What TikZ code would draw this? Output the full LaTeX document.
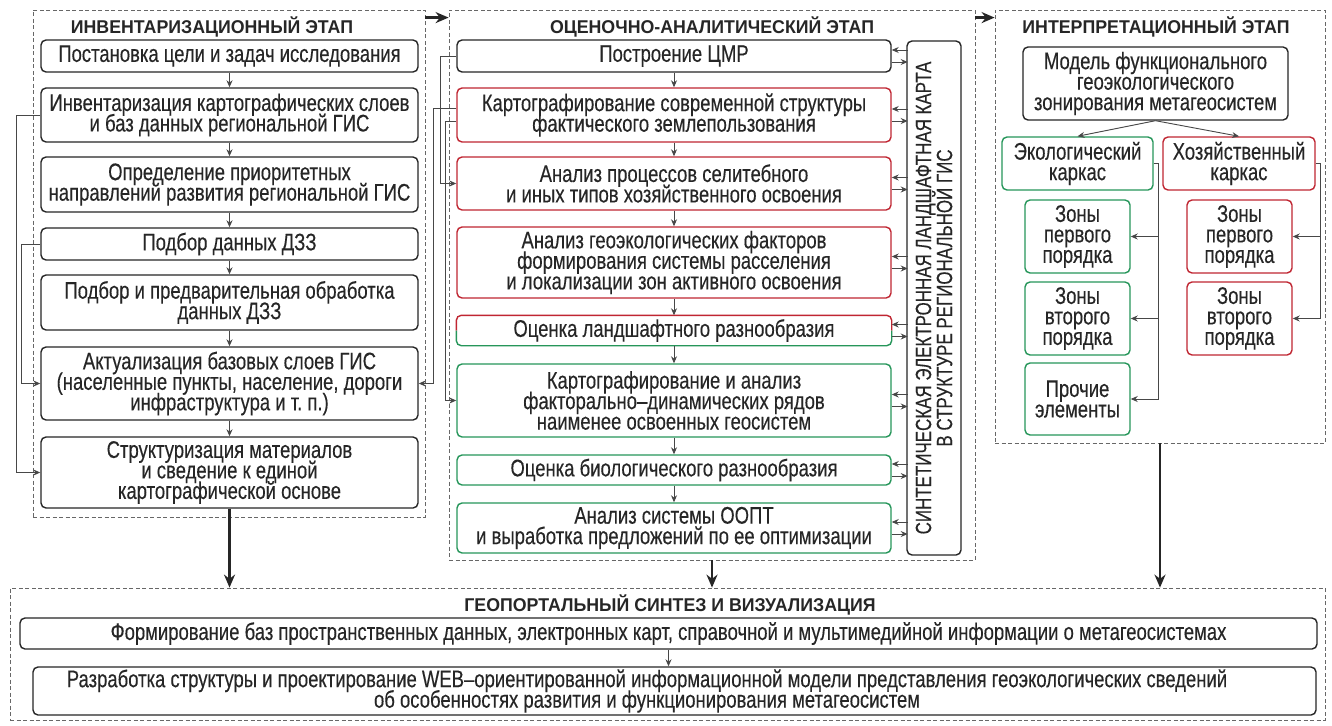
\documentclass[tikz,border=0pt]{standalone}
\usepackage{fontspec}
\setmainfont{Liberation Sans}[FakeStretch=0.77,FakeBold=0.25]
\newfontfamily\hdrfont{Liberation Sans}[FakeStretch=0.96]
\usetikzlibrary{arrows.meta,calc}
\definecolor{redb}{RGB}{192,38,50}
\definecolor{greenb}{RGB}{38,150,90}
\definecolor{ink}{RGB}{38,38,38}
\newcommand\bodyf{\fontsize{24}{20.5}\selectfont\lineskiplimit=-30pt\lineskip=0pt}
\newcommand\vertf{\fontsize{22}{21}\selectfont\lineskiplimit=-30pt\lineskip=0pt}
\tikzset{
  box/.style={draw=ink, line width=1.4pt, rounded corners=5pt, inner sep=0pt, font=\bodyf, align=center, text=ink},
  rbox/.style={box, draw=redb},
  gbox/.style={box, draw=greenb},
  frame/.style={draw=ink!70, line width=0.8pt, dash pattern=on 4pt off 2.5pt, inner sep=0pt},
  hdr/.style={font=\hdrfont\bfseries\fontsize{18.5}{18.5}\selectfont, text=ink, inner sep=0pt},
  con/.style={draw=ink!85, line width=0.9pt},
  arr/.style={con, -{Stealth[length=7pt,width=6pt]}},
  big/.style={draw=ink, line width=2.2pt, -{Stealth[length=13pt,width=11pt]}},
}
\begin{document}
\begin{tikzpicture}[x=1pt,y=-1pt]
\useasboundingbox[fill=white] (0,0) rectangle (1332,725);
% frames
\node[frame, minimum width=392, minimum height=507] (fl) at (229,263.5) {};
\node[frame, minimum width=526, minimum height=550] (fm) at (712,285) {};
\node[frame, minimum width=330, minimum height=433] (fr) at (1160,226.5) {};
\node[frame, minimum width=1315, minimum height=132] (fb) at (667.5,654) {};
% titles
\node[hdr] (tl) at (212,27) {ИНВЕНТАРИЗАЦИОННЫЙ ЭТАП};
\node[hdr] (tm) at (712,27) {ОЦЕНОЧНО-АНАЛИТИЧЕСКИЙ ЭТАП};
\node[hdr] (tr) at (1156,27) {ИНТЕРПРЕТАЦИОННЫЙ ЭТАП};
\node[hdr] (tb) at (670,605) {ГЕОПОРТАЛЬНЫЙ СИНТЕЗ И ВИЗУАЛИЗАЦИЯ};
% left column
\node[box, minimum width=377, minimum height=32] (l1) at (229.5,56) {Постановка цели и задач исследования};
\node[box, minimum width=377, minimum height=54] (l2) at (229.5,115) {Инвентаризация картографических слоев\\и баз данных региональной ГИС};
\node[box, minimum width=377, minimum height=55] (l3) at (229.5,184.5) {Определение приоритетных\\направлений развития региональной ГИС};
\node[box, minimum width=377, minimum height=32] (l4) at (229.5,244) {Подбор данных ДЗЗ};
\node[box, minimum width=377, minimum height=55] (l5) at (229.5,302.5) {Подбор и предварительная обработка\\данных ДЗЗ};
\node[box, minimum width=377, minimum height=73] (l6) at (229.5,383.5) {Актуализация базовых слоев ГИС\\(населенные пункты, население, дороги\\инфраструктура и т.~п.)};
\node[box, minimum width=377, minimum height=71] (l7) at (229.5,472.5) {Структуризация материалов\\и сведение к единой\\картографической основе};
\foreach \a/\b in {l1/l2,l2/l3,l3/l4,l4/l5,l5/l6,l6/l7}
  \draw[arr] (\a.south) -- (\b.north);
\draw[arr] (l2.west) -- ++(-24,0) |- (l7.west);
\draw[arr] (l4.west) -- ++(-19,0) |- (l6.west);
% middle column
\node[box, minimum width=434, minimum height=32] (m1) at (674,56) {Построение ЦМР};
\node[rbox, minimum width=434, minimum height=54] (m2) at (674,115) {Картографирование современной структуры\\фактического землепользования};
\node[rbox, minimum width=434, minimum height=53] (m3) at (674,183.5) {Анализ процессов селитебного\\и иных типов хозяйственного освоения};
\node[rbox, minimum width=434, minimum height=71] (m4) at (674,262.5) {Анализ геоэкологических факторов\\формирования системы расселения\\и локализации зон активного освоения};
\node[box, draw=none, minimum width=434, minimum height=29] (m5) at (674,330.5) {Оценка ландшафтного разнообразия};
\draw[redb, line width=1.4pt, rounded corners=5pt] (m5.west) -- (m5.north west) -- (m5.north east) -- (m5.east);
\draw[greenb, line width=1.4pt, rounded corners=5pt] (m5.east) -- (m5.south east) -- (m5.south west) -- (m5.west);
\node[gbox, minimum width=434, minimum height=73] (m6) at (674,400.5) {Картографирование и анализ\\факторально–динамических рядов\\наименее освоенных геосистем};
\node[gbox, minimum width=434, minimum height=30] (m7) at (674,470) {Оценка биологического разнообразия};
\node[gbox, minimum width=434, minimum height=50] (m8) at (674,528) {Анализ системы ООПТ\\и выработка предложений по ее оптимизации};
\node[box, font=\vertf, minimum width=514, minimum height=54, rotate=90] (v) at (934,298) {СИНТЕТИЧЕСКАЯ ЭЛЕКТРОННАЯ ЛАНДШАФТНАЯ КАРТА\\В СТРУКТУРЕ РЕГИОНАЛЬНОЙ ГИС};
\foreach \a/\b in {m1/m2,m2/m3,m3/m4,m4/m5,m5/m6,m6/m7,m7/m8}
  \draw[arr] (\a.south) -- (\b.north);
\foreach \i in {1,...,8}{
  \draw[arr] ($(m\i.east)+(16,-6)$) -- ($(m\i.east)+(0,-6)$);
  \draw[arr] ($(m\i.east)+(0,6)$) -- ($(m\i.east)+(16,6)$);
}
\coordinate (xa) at (440,0);
\coordinate (xb) at (433,0);
\coordinate (xc) at (445,0);
\draw[arr] (m1.west) -- (xa|-m1.west) |- (m3.west);
\draw[arr] ($(m2.west)+(0,-7)$) -- ($(xb|-m2.west)+(0,-7)$) |- (l6.east);
\draw[arr] ($(m2.west)+(0,6)$) -- ($(xc|-m2.west)+(0,6)$) |- (m6.west);
% right column
\node[box, minimum width=265, minimum height=73] (mod) at (1155.5,83.5) {Модель функционального\\геоэкологического\\зонирования метагеосистем};
\node[gbox, minimum width=151, minimum height=53] (eco) at (1077.5,163.5) {Экологический\\каркас};
\node[rbox, minimum width=152, minimum height=53] (hoz) at (1239,163.5) {Хозяйственный\\каркас};
\node[gbox, minimum width=105, minimum height=73] (ez1) at (1077.5,236.5) {Зоны\\первого\\порядка};
\node[gbox, minimum width=105, minimum height=73] (ez2) at (1077.5,318.5) {Зоны\\второго\\порядка};
\node[gbox, minimum width=105, minimum height=72] (pr) at (1077.5,399) {Прочие\\элементы};
\node[rbox, minimum width=105, minimum height=73] (rz1) at (1239.5,236.5) {Зоны\\первого\\порядка};
\node[rbox, minimum width=105, minimum height=73] (rz2) at (1239.5,318.5) {Зоны\\второго\\порядка};
\draw[arr] (mod.south) -- (eco.north);
\draw[arr] (mod.south) -- (hoz.north);
\coordinate (gx) at (1158,0);
\coordinate (rx) at (1320,0);
\draw[arr] (eco.east) -- (gx|-eco.east) |- (pr.east);
\draw[arr] (gx|-ez1.east) -- (ez1.east);
\draw[arr] (gx|-ez2.east) -- (ez2.east);
\draw[arr] (hoz.east) -- (rx|-hoz.east) |- (rz2.east);
\draw[arr] (rx|-rz1.east) -- (rz1.east);
% bottom
\node[box, minimum width=1297, minimum height=31] (b1) at (668.5,633.5) {Формирование баз пространственных данных, электронных карт, справочной и мультимедийной информации о метагеосистемах};
\node[box, minimum width=1283, minimum height=48] (b2) at (674.5,691) {};
\node[font=\bodyf, align=center, text=ink, inner sep=0pt] (b2t) at (647,691) {Разработка структуры и проектирование WEB–ориентированной информационной модели представления геоэкологических сведений\\об особенностях развития и функционирования метагеосистем};
\draw[arr] (b1.south) -- (b1.south|-b2.north);
% stage arrows
\draw[big] ($(fl.north east)+(0,8)$) -- ($(fm.north west)+(0,8)$);
\draw[big] ($(fm.north east)+(0,8)$) -- ($(fr.north west)+(0,8)$);
\draw[big] (l7.south) -- (l7.south|-fb.north);
\draw[big] (fm.south) -- (fm.south|-fb.north);
\draw[big] (fr.south) -- (fr.south|-fb.north);
\end{tikzpicture}
\end{document}
